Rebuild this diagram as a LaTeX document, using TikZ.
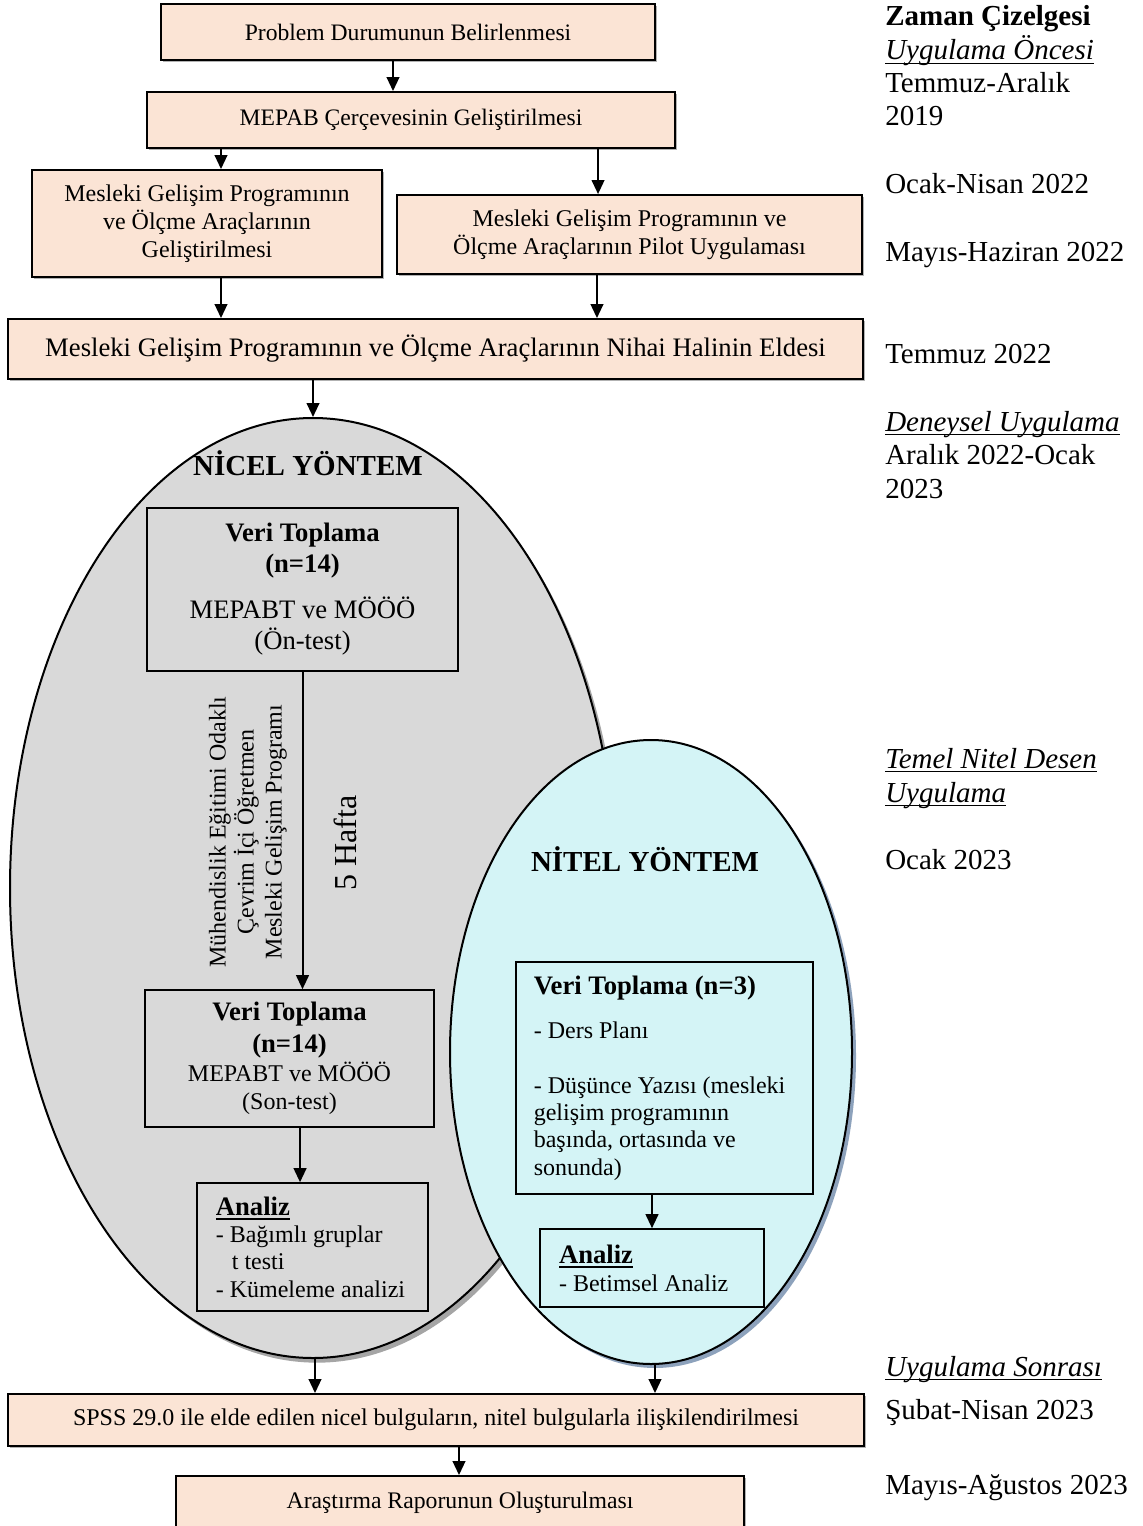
\documentclass[tikz,border=0pt]{standalone}
\usepackage{fontspec}
\setmainfont{Liberation Serif}
\usetikzlibrary{shapes.geometric,arrows.meta,shadows}
\definecolor{peach}{RGB}{251,228,213}
\definecolor{qgray}{RGB}{217,217,217}
\definecolor{qshadow}{RGB}{165,165,165}
\definecolor{lcyan}{RGB}{212,244,246}
\definecolor{cshadow}{RGB}{141,162,188}
% underline drawn at a fixed depth, through the descenders
\newcommand{\ulx}[1]{\setbox0\hbox{#1}\rlap{\rule[-3pt]{\wd0}{1.1pt}}\box0}
\newcommand{\ulbold}[1]{\setbox0\hbox{#1}\rlap{\rule[-3.5pt]{\wd0}{1.6pt}}\box0}
\begin{document}
\begin{tikzpicture}[x=0.75pt,y=-0.75pt,
  box/.style={draw=black, line width=1.4pt, fill=peach, inner sep=0pt, align=center,
    general shadow={shadow xshift=1.5pt, shadow yshift=-1.5pt, fill=black!30}},
  wbox/.style={draw=black, line width=1.2pt, inner sep=0pt},
  arr/.style={line width=1.5pt, -{Triangle[length=10.5pt,width=9.5pt]}},
  tl/.style={anchor=base west, inner sep=0pt, font=\fontsize{21.75}{25}\selectfont},
  head/.style={anchor=base, inner sep=0pt, font=\bfseries\fontsize{21.75}{25}\selectfont}
]
\useasboundingbox (0,0) rectangle (1142,1526);

% preparation stage
\node[box, minimum width=370.5pt, minimum height=42pt, font=\fontsize{17.7}{21}\selectfont] (b1) at (408,32) {Problem Durumunun Belirlenmesi};
\node[box, minimum width=396pt, minimum height=42pt, font=\fontsize{17.7}{21}\selectfont] (b2) at (411,120) {MEPAB Çerçevesinin Geliştirilmesi};
\node[box, minimum width=262.5pt, minimum height=80.25pt, font=\fontsize{18}{21}\selectfont] (b3) at (207,223.5) {Mesleki Gelişim Programının\\ve Ölçme Araçlarının\\Geliştirilmesi};
\node[box, minimum width=348.75pt, minimum height=59.25pt, font=\fontsize{18}{21}\selectfont] (b4) at (629.5,234.5) {Mesleki Gelişim Programının ve\\Ölçme Araçlarının Pilot Uygulaması};
\node[box, minimum width=641.25pt, minimum height=45pt, font=\fontsize{20}{24}\selectfont] (b5) at (435.5,349) {Mesleki Gelişim Programının ve Ölçme Araçlarının Nihai Halinin Eldesi};

% quantitative part
\node[ellipse, draw, line width=1.5pt, fill=qgray, minimum width=454.5pt, minimum height=705pt, inner sep=0pt,
  general shadow={shadow xshift=3pt, shadow yshift=-3.5pt, fill=qshadow}] (quan) at (313,888) {};
\node[head] (quanT) at (308,475) {NİCEL YÖNTEM};
\node[wbox, minimum width=233.25pt, minimum height=122.25pt, align=center, font=\fontsize{20}{23.25}\selectfont] (qtop) at (302.5,589.5)
  {\textbf{Veri Toplama}\\\textbf{(n=14)}\\[11.25pt]MEPABT ve MÖÖÖ\\(Ön-test)};
\node[wbox, minimum width=216.75pt, minimum height=102.75pt, align=center, font=\fontsize{18}{21}\selectfont] (qbot) at (289.5,1058.5)
  {{\bfseries\fontsize{20}{21}\selectfont Veri Toplama}\\[3pt]{\bfseries\fontsize{20}{21}\selectfont (n=14)}\\[0.75pt]MEPABT ve MÖÖÖ\\(Son-test)};
\node[rotate=90, align=center, inner sep=0pt, font=\fontsize{18}{21}\selectfont] (prog) at (248,832)
  {Mühendislik Eğitimi Odaklı\\Çevrim İçi Öğretmen\\Mesleki Gelişim Programı};
\node[rotate=90, inner sep=0pt, font=\fontsize{24}{28}\selectfont] (weeks) at (345,843) {5 Hafta};
\node[wbox, text width=145pt, inner xsep=14pt, minimum height=96pt, align=flush left, font=\fontsize{18}{20.5}\selectfont] (anL) at (312.5,1247)
  {{\bfseries\fontsize{20}{20.5}\selectfont\ulbold{Analiz}}\\- Bağımlı gruplar\\\hspace*{12pt}t testi\\- Kümeleme analizi};

% qualitative part
\node[ellipse, draw, line width=1.5pt, fill=lcyan, minimum width=301.5pt, minimum height=468pt, inner sep=0pt,
  general shadow={shadow xshift=3pt, shadow yshift=-3pt, fill=cshadow}] (qual) at (651,1052) {};
\node[head] (qualT) at (645,871) {NİTEL YÖNTEM};
\node[wbox, text width=196pt, inner xsep=13.5pt, minimum height=174pt, align=flush left, font=\fontsize{18}{20.5}\selectfont] (qbox) at (664.5,1078)
  {{\bfseries\fontsize{20}{20.5}\selectfont Veri Toplama (n=3)}\\[12.5pt]- Ders Planı\\[20.75pt]- Düşünce Yazısı (mesleki\\gelişim programının\\başında, ortasında ve\\sonunda)};
\node[wbox, text width=139.5pt, inner xsep=14.25pt, minimum height=58.5pt, align=flush left, font=\fontsize{18}{21}\selectfont] (anR) at (652,1268)
  {{\bfseries\fontsize{20}{21}\selectfont\ulbold{Analiz}}\\- Betimsel Analiz};

% final stage
\node[box, minimum width=642pt, minimum height=39pt, font=\fontsize{18}{21}\selectfont] (spss) at (436,1420) {SPSS 29.0 ile elde edilen nicel bulguların, nitel bulgularla ilişkilendirilmesi};
\node[box, minimum width=426pt, minimum height=40.5pt, font=\fontsize{17.8}{21}\selectfont] (last) at (460,1503) {Araştırma Raporunun Oluşturulması};

% connectors
\draw[arr] ([xshift=-11.25pt]b1.south) -- ([xshift=-13.5pt]b2.north);
\draw[arr] ([xshift=10.5pt]b3.north |- b2.south) -- ([xshift=10.5pt]b3.north);
\draw[arr] ([xshift=-23.6pt]b4.north |- b2.south) -- ([xshift=-23.6pt]b4.north);
\draw[arr] ([xshift=10.5pt]b3.south) -- ([xshift=10.5pt]b3.south |- b5.north);
\draw[arr] ([xshift=-24.4pt]b4.south) -- ([xshift=-24.4pt]b4.south |- b5.north);
\draw[arr] (b5.south -| quan.north) -- (quan.north);
\draw[arr] (qtop.south) -- (qtop.south |- qbot.north);
\draw[arr] ([xshift=7.9pt]qbot.south) -- ([xshift=7.9pt]qbot.south |- anL.north);
\draw[arr] (anR.north |- qbox.south) -- (anR.north);
\draw[arr] ([xshift=1.5pt]quan.south) -- ([xshift=1.5pt]quan.south |- spss.north);
\draw[arr] ([xshift=3pt]qual.south) -- ([xshift=3pt]qual.south |- spss.north);
\draw[arr] ([xshift=17.25pt]spss.south) -- ([xshift=17.25pt]spss.south |- last.north);

% timeline column
\node[tl] (t1) at (885,26) {\textbf{Zaman Çizelgesi}};
\node[tl] (t2) at (885,60) {\ulx{\textit{Uygulama Öncesi}}};
\node[tl] (t3) at (885,93) {Temmuz-Aralık};
\node[tl] (t4) at (885,126) {2019};
\node[tl] (t5) at (885,194) {Ocak-Nisan 2022};
\node[tl] (t6) at (885,262) {Mayıs-Haziran 2022};
\node[tl] (t7) at (885,363) {Temmuz 2022};
\node[tl] (t8) at (885,431) {\ulx{\textit{Deneysel Uygulama}}};
\node[tl] (t9) at (885,464) {Aralık 2022-Ocak};
\node[tl] (t10) at (885,498) {2023};
\node[tl] (t11) at (885,768) {\ulx{\textit{Temel Nitel Desen}}};
\node[tl] (t12) at (885,802) {\ulx{\textit{Uygulama}}};
\node[tl] (t13) at (885,869) {Ocak 2023};
\node[tl] (t14) at (885,1376) {\ulx{\textit{Uygulama Sonrası}}};
\node[tl] (t15) at (885,1419) {Şubat-Nisan 2023};
\node[tl] (t16) at (885,1494) {Mayıs-Ağustos 2023};
\end{tikzpicture}
\end{document}
